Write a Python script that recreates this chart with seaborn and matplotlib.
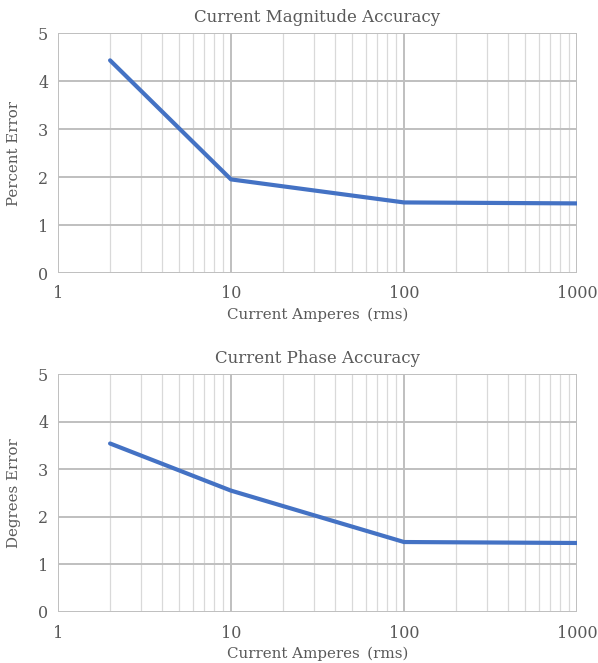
import matplotlib
matplotlib.use('Agg')
import matplotlib.pyplot as plt
import matplotlib.ticker as mticker
import seaborn as sns
import pandas as pd

amps = [2, 10, 100, 1000]
mag_error = [4.43, 1.95, 1.47, 1.45]
phase_error = [3.54, 2.55, 1.47, 1.45]

titles = ['Current Magnitude Accuracy', 'Current Phase Accuracy']
ylabels = ['Percent Error', 'Degrees Error']
xlabel = 'Current Amperes\u2002(rms)'

sns.set_style('white')
plt.rcParams['font.family'] = ['DejaVu Serif']
text_color = '#595959'

fig = plt.figure(figsize=(5.98, 6.63), dpi=100)
ax1 = fig.add_axes([58 / 598, 1 - 273 / 663, 519 / 598, 240 / 663])
ax2 = fig.add_axes([58 / 598, 1 - 612 / 663, 519 / 598, 238 / 663])

for ax, vals, title, ylab in zip([ax1, ax2], [mag_error, phase_error], titles, ylabels):
    df = pd.DataFrame({'Amps': amps, 'Error': vals})
    sns.lineplot(x='Amps', y='Error', data=df, ax=ax, color='#4472C4',
                 linewidth=3, zorder=3)
    ax.set_xscale('log')
    ax.set_xlim(1, 1000)
    ax.set_ylim(0, 5)
    ax.xaxis.set_major_locator(mticker.FixedLocator([1, 10, 100, 1000]))
    ax.xaxis.set_major_formatter(mticker.FixedFormatter(['1', '10', '100', '1000']))
    ax.xaxis.set_minor_locator(mticker.LogLocator(base=10, subs=range(2, 10)))
    ax.xaxis.set_minor_formatter(mticker.NullFormatter())
    ax.set_yticks([0, 1, 2, 3, 4, 5])
    ax.grid(which='major', color='#bfbfbf', linewidth=1.4)
    ax.grid(which='minor', axis='x', color='#d9d9d9', linewidth=0.9)
    for s in ax.spines.values():
        s.set_visible(False)
    ax.tick_params(which='both', length=0, labelsize=11.5, colors=text_color)
    ax.tick_params(axis='x', pad=9)
    ax.tick_params(axis='y', pad=7)
    ax.set_title(title, fontsize=12, color=text_color, pad=8)
    ax.set_xlabel(xlabel, fontsize=10.8, color=text_color, labelpad=4)
    ax.set_ylabel(ylab, fontsize=10.8, color=text_color, labelpad=12)

fig.savefig('out.png', dpi=100)
